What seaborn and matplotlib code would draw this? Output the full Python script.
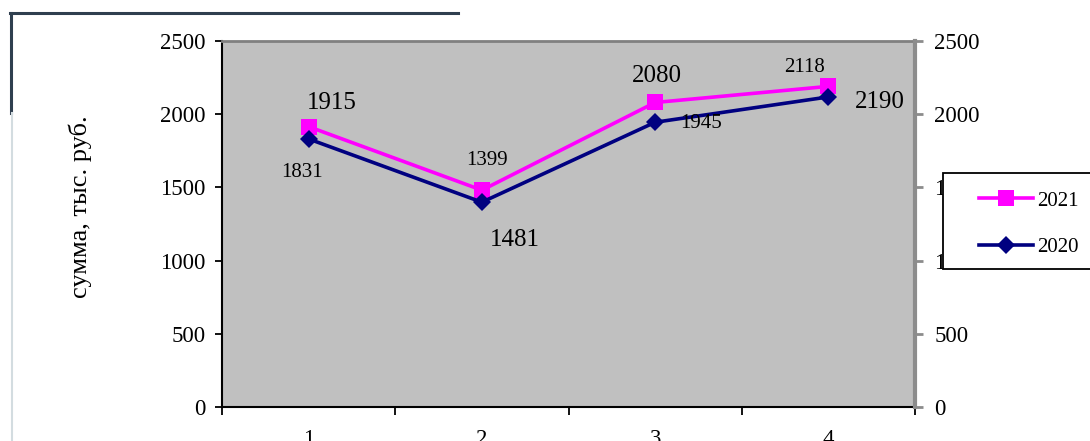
import pandas as pd
import matplotlib.pyplot as plt
import matplotlib.lines as mlines
import matplotlib.patches as mpatches
import seaborn as sns

# данные с графика
periods = [1, 2, 3, 4]
sum_2021 = [1915, 1481, 2080, 2190]
sum_2020 = [1831, 1399, 1945, 2118]
y_ticks = [0, 500, 1000, 1500, 2000, 2500]

# смещения подписей (точки)
offs_2021 = [(17, 17), (24, -36), (1, 19), (37, -11)]
offs_2020 = [(-5, -24), (4, 30), (33, -1), (-17, 21)]

plt.rcParams['font.family'] = ['Liberation Serif', 'DejaVu Serif']

df = pd.DataFrame({'period': periods, '2021': sum_2021, '2020': sum_2020})

fig = plt.figure(figsize=(10.9, 4.41), dpi=100)
ax = fig.add_axes([222 / 1090, 1 - 407 / 441, (915 - 222) / 1090, (407 - 41) / 441])
ax.set_facecolor('#C0C0C0')

sns.lineplot(data=df, x='period', y='2021', ax=ax, color='#FF00FF', linewidth=2.6,
             marker='s', markersize=11, markeredgewidth=0, label='2021')
sns.lineplot(data=df, x='period', y='2020', ax=ax, color='#000080', linewidth=2.6,
             marker='D', markersize=9.5, markeredgewidth=0, label='2020')

for x, v, (dx, dy) in zip(periods, sum_2021, offs_2021):
    ax.annotate(str(v), (x, v), xytext=(dx, dy), textcoords='offset points',
                ha='center', va='center', fontsize=18)
for x, v, (dx, dy) in zip(periods, sum_2020, offs_2020):
    ax.annotate(str(v), (x, v), xytext=(dx, dy), textcoords='offset points',
                ha='center', va='center', fontsize=15)

ax.set_xlim(0.5, 4.5)
ax.set_ylim(0, 2500)
ax.set_yticks(y_ticks)
ax.tick_params(axis='y', labelsize=16.5, length=5, width=1.3, color='black', pad=7)
ax.set_xticks([0.5, 1.5, 2.5, 3.5, 4.5])
ax.set_xticklabels([])
ax.set_xticks(periods, minor=True)
ax.set_xticklabels([str(p) for p in periods], minor=True)
ax.tick_params(axis='x', which='major', length=6, width=1.3)
ax.tick_params(axis='x', which='minor', length=0, pad=16, labelsize=16.5)
ax.set_xlabel('')
ax.set_ylabel('')

ax.spines['left'].set_linewidth(1.5)
ax.spines['bottom'].set_linewidth(1.5)
ax.spines['top'].set_color('#808080')
ax.spines['top'].set_linewidth(2)
ax.spines['right'].set_visible(False)

ax2 = ax.twinx()
ax2.set_ylim(0, 2500)
ax2.set_yticks(y_ticks)
ax2.tick_params(axis='y', labelsize=16.5, length=6, width=2, color='#8C8C8C', pad=8)
for s in ['left', 'top', 'bottom']:
    ax2.spines[s].set_visible(False)
ax2.spines['right'].set_color('#8C8C8C')
ax2.spines['right'].set_linewidth(3)

# рамка легенды (уходит за правый край)
fig.add_artist(mpatches.Rectangle((943 / 1090, 1 - 269 / 441), 170 / 1090, 96 / 441,
                                  transform=fig.transFigure, facecolor='white',
                                  edgecolor='black', linewidth=1.3, zorder=5))

ax.get_legend().remove()
h, l = ax.get_legend_handles_labels()
leg = fig.legend(h, l, loc='upper left', bbox_to_anchor=(979 / 1090, 1 - 191 / 441),
                 fontsize=15, frameon=False, handlelength=2.6, borderpad=0,
                 labelspacing=1.3, borderaxespad=0, handletextpad=0.2)
leg.set_zorder(6)

fig.text(80 / 1090, 1 - 207 / 441, 'сумма, тыс. руб.', rotation=90,
         ha='center', va='center', fontsize=19)

# рамка слайда
fig.add_artist(mlines.Line2D([10 / 1090, 458 / 1090], [1 - 13 / 441, 1 - 13 / 441],
                             color='#2F3F4F', linewidth=2.2))
fig.add_artist(mlines.Line2D([11 / 1090, 11 / 1090], [1 - 13 / 441, 1 - 113 / 441],
                             color='#2F3F4F', linewidth=2.2))
fig.add_artist(mlines.Line2D([12 / 1090, 12 / 1090], [1 - 113 / 441, 0],
                             color='#D3DCE0', linewidth=1.5))

fig.savefig('out.png', dpi=100)
